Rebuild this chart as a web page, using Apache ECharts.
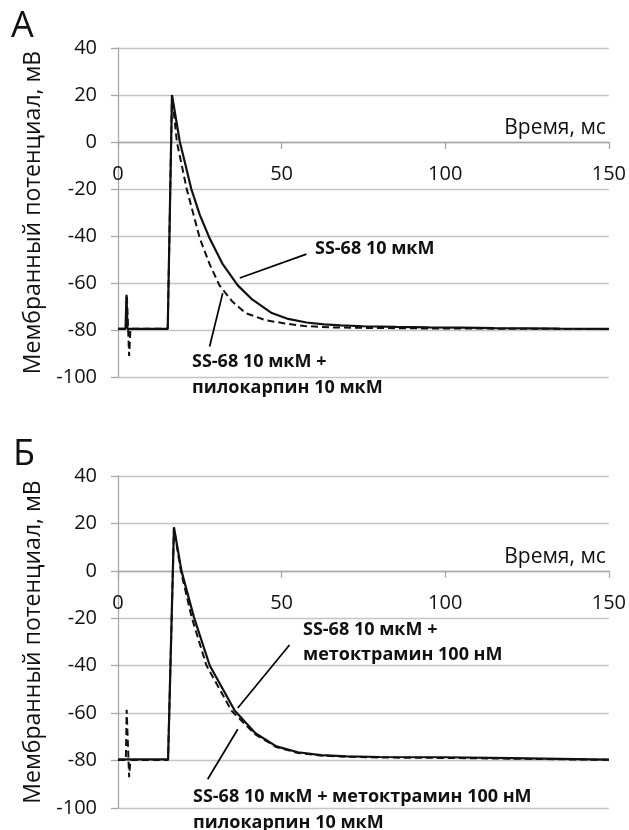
<!DOCTYPE html>
<html>
<head>
<meta charset="utf-8">
<script src="https://cdn.jsdelivr.net/npm/echarts@6/dist/echarts.min.js"></script>
<style>
html,body{margin:0;padding:0;background:#fff;}
#chart{width:629px;height:830px;}
</style>
</head>
<body>
<div id="chart"></div>
<script>
// ---------- data (time in ms, membrane potential in mV) ----------
// Panel A
const tA_solid = [0, 2.3, 2.6, 2.9, 10, 15.2, 16.5, 18.9, 20.5, 22.4, 25, 28, 32, 36.6, 41, 47, 52, 57.6, 63, 68, 75, 85, 95, 105, 115, 125, 135, 150];
const vA_solid = [-79.5, -79.5, -65, -79.5, -79.5, -79.5, 20, 0, -9, -20, -31, -41, -52, -61, -67, -72.8, -75.3, -76.8, -77.6, -78, -78.4, -78.7, -78.9, -79, -79.2, -79.3, -79.4, -79.5];
const tA_dash = [0, 2.4, 2.7, 3.4, 3.8, 10, 15.2, 16.5, 18.0, 21.0, 25, 28, 31, 35, 39, 45, 51, 57, 65, 75, 90, 110, 130, 150];
const vA_dash = [-79.5, -79.5, -65, -91, -79.5, -79.5, -79.5, 20, 0, -20, -41, -52, -61, -68, -72.8, -75.8, -77.2, -78.3, -78.9, -79.1, -79.3, -79.4, -79.5, -79.6];
// Panel B
const tB_solid = [0, 10, 15.3, 17.1, 19.4, 23.2, 28, 35.7, 42, 48.4, 55, 62, 70, 80, 100, 120, 150];
const vB_solid = [-79.5, -79.5, -79.5, 18.4, 0, -19.5, -39.8, -59, -68.5, -74, -76.5, -77.7, -78.2, -78.5, -78.6, -79, -79.6];
const tB_dash = [0, 2.4, 2.65, 3.4, 3.8, 10, 15.3, 17.1, 19.2, 22.5, 27, 34.7, 42, 48.4, 55, 62, 70, 80, 100, 120, 150];
const vB_dash = [-79.8, -79.8, -58.6, -87, -79.8, -79.8, -79.8, 18, 0, -19.5, -39.8, -59, -69, -74.3, -76.8, -77.9, -78.4, -78.7, -78.9, -79.2, -79.7];

// axes
const xTicks = [0, 50, 100, 150];
const yTicks = [-100, -80, -60, -40, -20, 0, 20, 40];

// annotation arrows [tail, head] in data units
const arrowsA = [[[57.6, -47.7], [37.2, -57.9]], [[28.0, -87.0], [32.0, -64.3]]];
const arrowsB = [[[52.4, -31.3], [36.6, -57.8]], [[27.4, -87.9], [36.6, -66.8]]];

// labels
const panelLabels = ['А', 'Б'];
const xName = 'Время, мс';
const yName = 'Мембранный потенциал, мВ';
const textsA = [['SS-68 10 мкМ'], ['SS-68 10 мкМ +', 'пилокарпин 10 мкМ']];
const textsB = [['SS-68 10 мкМ +', 'метоктрамин 100 нМ'], ['SS-68 10 мкМ + метоктрамин 100 нМ', 'пилокарпин 10 мкМ']];

// ---------- chart ----------
const zip = (t, v) => t.map((x, i) => [x, v[i]]);
const FONT = '"Open Sans", "Noto Sans", sans-serif';
const gridColor = '#c4c4c4';
const axisColor = '#a8a8a8';
const gridH = [329, 332];
const yMin = yTicks[0], yMax = yTicks[yTicks.length - 1];

function xAxis(gi) {
  // the time axis crosses the potential axis at 0 mV
  const off = -gridH[gi] * (0 - yMin) / (yMax - yMin);
  return {
    type: 'value', gridIndex: gi, min: xTicks[0], max: xTicks[xTicks.length - 1], interval: 50,
    position: 'bottom', offset: off,
    axisLine: { onZero: false, lineStyle: { color: axisColor, width: 1.3 } },
    axisTick: { show: true, length: 7, lineStyle: { color: axisColor, width: 1.3 } },
    axisLabel: { margin: 22, color: '#111', fontSize: 20, fontFamily: FONT },
    splitLine: { show: false },
    name: xName, nameLocation: 'end', nameGap: -3,
    nameTextStyle: { align: 'right', verticalAlign: 'bottom', padding: [0, 0, 3, 0], fontSize: 21, color: '#111', fontFamily: FONT }
  };
}
function yAxis(gi) {
  return {
    type: 'value', gridIndex: gi, min: yMin, max: yMax, interval: 20,
    axisLine: { show: true, onZero: false, lineStyle: { color: axisColor, width: 1.3 } },
    axisTick: { show: true, length: 7, lineStyle: { color: axisColor, width: 1.3 } },
    axisLabel: { margin: 21, color: '#111', fontSize: 20, fontFamily: FONT },
    splitLine: { show: true, lineStyle: { color: gridColor, width: 1.3 } },
    name: yName, nameLocation: 'middle', nameGap: 60,
    nameTextStyle: { fontSize: 23, color: '#111', fontFamily: FONT }
  };
}
function arrowLines(arr) {
  return {
    silent: true, animation: false,
    symbol: ['none', 'arrow'], symbolSize: [0, 11],
    label: { show: false },
    lineStyle: { color: '#000', width: 1.7, type: 'solid' },
    data: arr.map(a => [{ coord: a[0] }, { coord: a[1] }])
  };
}
function line(data, gi, dashed, ml) {
  const s = {
    type: 'line', xAxisIndex: gi, yAxisIndex: gi, data: data, showSymbol: false, symbol: 'none',
    lineStyle: { color: '#111', width: dashed ? 2 : 2.2, type: dashed ? [7, 4] : 'solid' },
    z: dashed ? 3 : 2
  };
  if (ml) s.markLine = ml;
  return s;
}

const bold = 'bold 18px ' + FONT;
function txt(x, y, t, font) {
  return { type: 'text', x: x, y: y, style: { text: t, font: font || bold, fill: '#111', verticalAlign: 'middle' } };
}

const option = {
  animation: false,
  backgroundColor: '#fff',
  grid: [
    { left: 118, right: 20, top: 48, height: gridH[0] },
    { left: 118, right: 20, top: 476, height: gridH[1] }
  ],
  xAxis: [xAxis(0), xAxis(1)],
  yAxis: [yAxis(0), yAxis(1)],
  series: [
    line(zip(tA_solid, vA_solid), 0, false, arrowLines(arrowsA)),
    line(zip(tA_dash, vA_dash), 0, true),
    line(zip(tB_solid, vB_solid), 1, false, arrowLines(arrowsB)),
    line(zip(tB_dash, vB_dash), 1, true)
  ],
  graphic: [
    txt(11, 27, panelLabels[0], '36px ' + FONT),
    txt(13, 455, panelLabels[1], '36px ' + FONT),
    txt(315, 249, textsA[0][0]),
    txt(192, 362, textsA[1][0]),
    txt(192, 388, textsA[1][1]),
    txt(303, 630, textsB[0][0]),
    txt(303, 655, textsB[0][1]),
    txt(193, 797, textsB[1][0]),
    txt(193, 823, textsB[1][1])
  ]
};

const chart = echarts.init(document.getElementById('chart'), null, { renderer: 'canvas' });
chart.setOption(option);
</script>
</body>
</html>
